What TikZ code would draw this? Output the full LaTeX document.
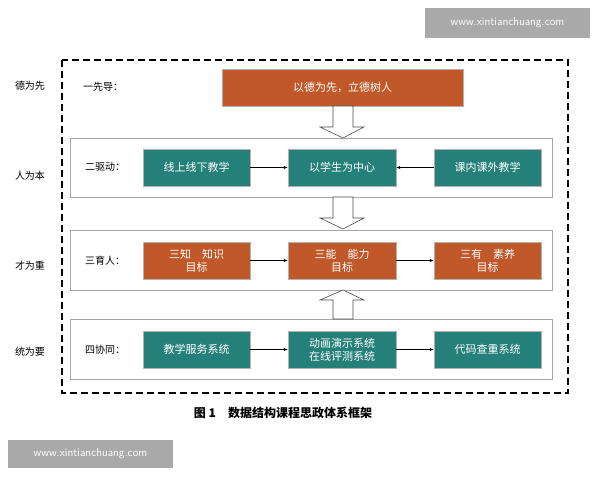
\documentclass[tikz,border=0pt]{standalone}
\usepackage{fontspec}
\newfontfamily\cjk{Noto Sans CJK SC}
\usetikzlibrary{arrows.meta}
\definecolor{org}{HTML}{C0582A}
\definecolor{tl}{HTML}{25807A}
\definecolor{wm}{HTML}{A9A9A9}
\begin{document}
\begin{tikzpicture}[x=1pt,y=-1pt,
  fb/.style={draw=gray!60,minimum height=37pt,text=white,font=\cjk\fontsize{11}{13}\selectfont,align=center,inner sep=0pt},
  ob/.style={fb,fill=org},
  tb/.style={fb,fill=tl},
  row/.style={draw=gray!70,line width=0.6pt},
  lab/.style={font=\cjk\fontsize{10}{12}\selectfont},
  con/.style={-{Latex[length=4pt,width=3pt]},line width=0.5pt},
  hol/.style={draw=gray!60!black,fill=white,line width=0.6pt}]
\useasboundingbox (0,0) rectangle (600,480);
\fill[white] (0,0) rectangle (600,480);
\draw[line width=1.2pt,dash pattern=on 7pt off 4pt] (62,60) rectangle (568,393);
% rows
\draw[row] (70,138) rectangle (552,197);
\draw[row] (70,230) rectangle (552,290);
\draw[row] (70,319) rectangle (552,379);
% left labels
\node[lab] (l1) at (30,86) {德为先};
\node[lab] (l2) at (30,176) {人为本};
\node[lab] (l3) at (30,266) {才为重};
\node[lab] (l4) at (30,352) {统为要};
\node[lab] (r1) at (103,87) {一先导：};
\node[lab] (r2) at (105,167) {二驱动：};
\node[lab] (r3) at (105,261) {三育人：};
\node[lab] (r4) at (105,350) {四协同：};
% top
\node[ob,minimum width=241pt] (top) at (342.5,87.5) {以德为先，立德树人};
% row 2
\node[tb,minimum width=107pt] (a1) at (196.5,167.5) {线上线下教学};
\node[tb,minimum width=108pt] (a2) at (342,167.5) {以学生为中心};
\node[tb,minimum width=107pt] (a3) at (487.5,167.5) {课内课外教学};
\draw[con] (a1) -- (a2);
\draw[con] (a3) -- (a2);
% row 3
\node[ob,minimum width=107pt] (b1) at (196.5,260.5) {三知\quad 知识\\目标};
\node[ob,minimum width=108pt] (b2) at (342,260.5) {三能\quad 能力\\目标};
\node[ob,minimum width=107pt] (b3) at (487.5,260.5) {三有\quad 素养\\目标};
\draw[con] (b1) -- (b2);
\draw[con] (b2) -- (b3);
% row 4
\node[tb,minimum width=107pt] (c1) at (196.5,349.5) {教学服务系统};
\node[tb,minimum width=108pt] (c2) at (342,349.5) {动画演示系统\\在线评测系统};
\node[tb,minimum width=107pt] (c3) at (487.5,349.5) {代码查重系统};
\draw[con] (c1) -- (c2);
\draw[con] (c2) -- (c3);
% hollow arrows
\draw[hol] (333,106) -- (353,106) -- (353,127) -- (364,127) -- (343,138) -- (320,127) -- (333,127) -- cycle;
\draw[hol] (333,197) -- (353,197) -- (353,218) -- (364,218) -- (343,229) -- (320,218) -- (333,218) -- cycle;
\draw[hol] (333,319) -- (353,319) -- (353,300) -- (364,300) -- (343,290) -- (320,300) -- (333,300) -- cycle;
% caption
\node[font=\cjk\bfseries\fontsize{12}{14}\selectfont] (cap) at (283,413) {图 1\quad 数据结构课程思政体系框架};
% watermark boxes
\node[fill=wm,text=white,minimum width=165pt,minimum height=30pt,font=\sffamily\fontsize{11.5}{13}\selectfont] (w1) at (507.5,23) {www.xintianchuang.com};
\node[fill=wm,text=white,minimum width=165pt,minimum height=28pt,font=\sffamily\fontsize{11.5}{13}\selectfont] (w2) at (90.5,454) {www.xintianchuang.com};
\end{tikzpicture}
\end{document}
